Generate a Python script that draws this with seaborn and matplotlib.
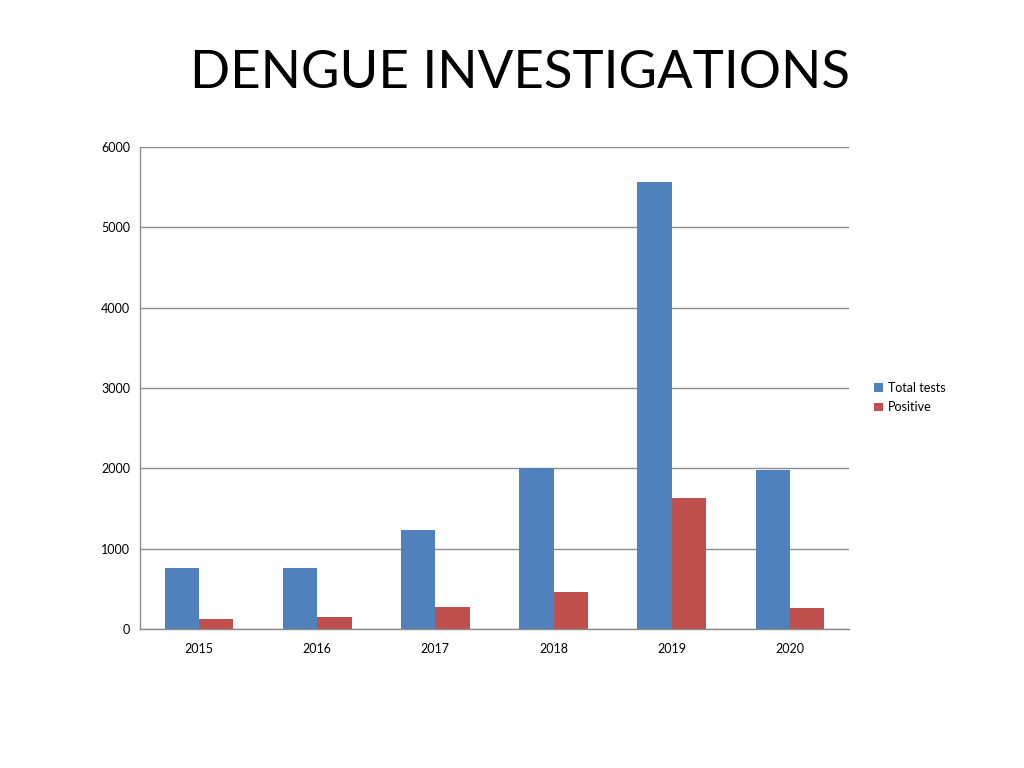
import matplotlib
matplotlib.use('Agg')
import matplotlib.pyplot as plt
import seaborn as sns
import pandas as pd
import numpy as np

# values
years = ['2015', '2016', '2017', '2018', '2019', '2020']
total_tests = [755, 764, 1228, 2000, 5570, 1975]
positive = [125, 146, 274, 456, 1630, 266]

df = pd.DataFrame({
    'year': years * 2,
    'count': total_tests + positive,
    'series': ['Total tests'] * len(years) + ['Positive'] * len(years),
})

sns.set_style('white')
plt.rcParams['font.family'] = ['Lato', 'DejaVu Sans']
plt.rcParams['text.color'] = 'black'
plt.rcParams['xtick.color'] = 'black'
plt.rcParams['ytick.color'] = 'black'

fig = plt.figure(figsize=(10.24, 7.68), dpi=100)
ax = fig.add_axes([0.1367, 0.181, 0.6924, 0.6276])

sns.barplot(data=df, x='year', y='count', hue='series',
            palette=['#4F81BD', '#C0504D'], width=0.58, gap=0,
            saturation=1, linewidth=0, ax=ax, legend=True)

ax.set_ylim(0, 6000)
ax.set_xlim(-0.5, len(years) - 0.5)
ax.set_yticks(range(0, 6001, 1000))
ax.yaxis.grid(True, color='#8c8c8c', linewidth=1)
ax.set_axisbelow(True)
ax.set_xlabel('')
ax.set_ylabel('')

for s in ['top', 'right']:
    ax.spines[s].set_visible(False)
for s in ['left', 'bottom']:
    ax.spines[s].set_color('#8c8c8c')
    ax.spines[s].set_linewidth(1)

# category boundary ticks on x
ax.set_xticks(np.arange(-0.5, len(years), 1.0), minor=True)
ax.tick_params(axis='x', which='major', length=0, labelsize=9, pad=10)
ax.tick_params(axis='x', which='minor', length=5, color='#8c8c8c', direction='out')
ax.tick_params(axis='y', length=5, color='#8c8c8c', labelcolor='black',
               direction='out', labelsize=9, pad=2)

leg = ax.legend(loc='center left', bbox_to_anchor=(1.02, 0.48), frameon=False,
                fontsize=9, handlelength=0.7, handleheight=0.7, handletextpad=0.4,
                labelspacing=0.6)

fig.text(0.508, 0.904, 'DENGUE INVESTIGATIONS', ha='center', va='center',
         fontsize=38, color='black')

fig.savefig('out.png', dpi=100)
